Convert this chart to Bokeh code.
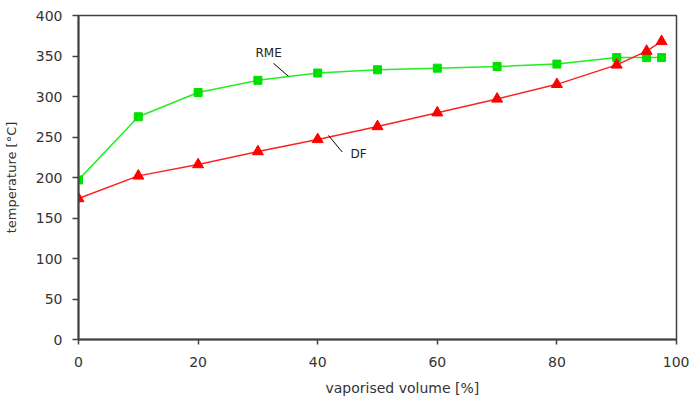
from bokeh.plotting import figure
from bokeh.embed import file_html
from bokeh.resources import INLINE
from bokeh.models import Range1d, FixedTicker, Label, Title

vol_rme = [0, 10, 20, 30, 40, 50, 60, 70, 80, 90, 95, 97.5]
temp_rme = [197, 275, 305, 320, 329, 333, 335, 337, 340, 348, 348, 348]
vol_df = [0, 10, 20, 30, 40, 50, 60, 70, 80, 90, 95, 97.5]
temp_df = [174, 202, 216, 232, 247, 263, 280, 297, 315, 339, 356, 368]
x_ticks = [0, 20, 40, 60, 80, 100]
y_ticks = [0, 50, 100, 150, 200, 250, 300, 350, 400]

FONT = "DejaVu Sans"
AXC = "#404040"
TXT = "#333333"

p = figure(width=689, height=403, output_backend="svg", toolbar_location=None,
           x_range=Range1d(0, 100), y_range=Range1d(0, 400),
           min_border_left=78, min_border_right=13, min_border_top=15, min_border_bottom=63)
p.xgrid.visible = False
p.ygrid.visible = False
p.outline_line_color = AXC
p.outline_line_width = 1.5

for ax in (p.xaxis[0], p.yaxis[0]):
    ax.axis_line_color = AXC
    ax.axis_line_width = 2
    ax.major_tick_line_color = AXC
    ax.major_tick_line_width = 1.5
    ax.major_tick_in = 0
    ax.minor_tick_line_color = None
    ax.major_label_text_font = FONT
    ax.major_label_text_font_size = "14px"
    ax.major_label_text_color = TXT
    ax.axis_label_text_font = FONT
    ax.axis_label_text_font_style = "normal"
    ax.axis_label_text_color = TXT

p.xaxis.ticker = FixedTicker(ticks=x_ticks)
p.yaxis.ticker = FixedTicker(ticks=y_ticks)
p.xaxis.major_tick_out = 5
p.yaxis.major_tick_out = 6
p.xaxis.major_label_standoff = 12
p.yaxis.major_label_standoff = 10
p.yaxis.axis_label = "temperature [°C]"
p.yaxis.axis_label_text_font_size = "13px"
p.yaxis.axis_label_standoff = 14

# x-axis title, slightly right of centre as in the reference
p.add_layout(Title(text="vaporised volume [%]", align="left", offset=247, standoff=16,
                   text_font=FONT, text_font_size="14px", text_font_style="normal",
                   text_color=TXT), "below")

p.line(vol_rme, temp_rme, line_color="#22ee22", line_width=1.5)
p.scatter(vol_rme, temp_rme, marker="square", size=8, fill_color="#00e000", line_color="#00e000")
p.line(vol_df, temp_df, line_color="#ff2020", line_width=1.5)
p.scatter(vol_df, temp_df, marker="triangle", size=11, fill_color="#ff0000", line_color="#ff0000")

# annotations with leader lines
p.line([32.6, 35.1], [341, 325], line_color="black", line_width=1)
p.add_layout(Label(x=29.6, y=354, text="RME", text_font=FONT, text_font_size="12px",
                   text_baseline="middle", text_align="left", text_color="#222222"))
p.line([41.8, 44.1], [252, 231.5], line_color="black", line_width=1)
p.add_layout(Label(x=45.5, y=229, text="DF", text_font=FONT, text_font_size="12px",
                   text_baseline="middle", text_align="left", text_color="#222222"))

open("out.html", "w").write(file_html(p, INLINE))
